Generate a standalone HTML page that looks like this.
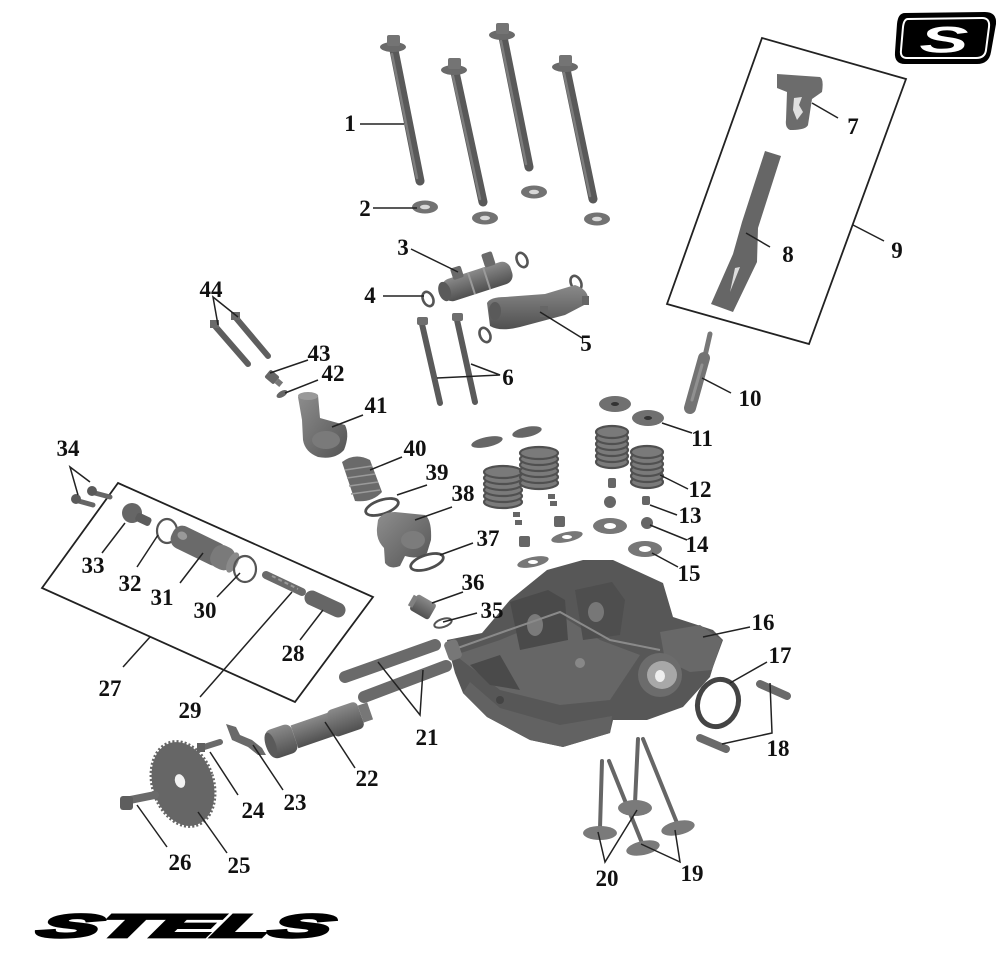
<!DOCTYPE html>
<html><head><meta charset="utf-8"><style>html,body{margin:0;padding:0;background:#fff}svg{display:block}</style></head><body>
<svg width="1008" height="958" viewBox="0 0 1008 958" xmlns="http://www.w3.org/2000/svg">
<defs>
<linearGradient id="m" x1="0" y1="0" x2="1" y2="1"><stop offset="0" stop-color="#8e8e8e"/><stop offset="1" stop-color="#545454"/></linearGradient>
<linearGradient id="mv" x1="0" y1="0" x2="0" y2="1"><stop offset="0" stop-color="#8a8a8a"/><stop offset="1" stop-color="#505050"/></linearGradient>
</defs>
<rect width="1008" height="958" fill="#fff"/>

<path d="M905,13 L985,12 Q997,12 996,24 L991,52 Q989,64 977,64 L905,64 Q894,64 895,52 L897,24 Q898,13 905,13 Z" fill="#000"/>
<path d="M908,19 L982,18 Q990,18 989,27 L986,50 Q985,58 976,58 L907,58 Q900,58 901,50 L903,27 Q904,19 908,19 Z" fill="none" stroke="#fff" stroke-width="2"/>
<text x="944" y="56" font-family="Liberation Sans, sans-serif" font-weight="bold" font-style="italic" font-size="46" fill="#fff" text-anchor="middle" transform="translate(944,38) scale(1.6,0.8) translate(-944,-38)">S</text>

<g stroke-linecap="round">
<line x1="394" y1="50" x2="420" y2="181" stroke="#595959" stroke-width="9"/>
<line x1="392" y1="54" x2="417" y2="178" stroke="#7d7d7d" stroke-width="2.5"/>
<line x1="455" y1="72" x2="483" y2="202" stroke="#595959" stroke-width="9"/>
<line x1="453" y1="76" x2="480" y2="199" stroke="#7d7d7d" stroke-width="2.5"/>
<line x1="503" y1="37" x2="529" y2="167" stroke="#595959" stroke-width="9"/>
<line x1="501" y1="41" x2="526" y2="164" stroke="#7d7d7d" stroke-width="2.5"/>
<line x1="566" y1="69" x2="593" y2="199" stroke="#595959" stroke-width="9"/>
<line x1="564" y1="73" x2="590" y2="196" stroke="#7d7d7d" stroke-width="2.5"/>
</g>
<ellipse cx="393" cy="47" rx="13" ry="5" fill="#6a6a6a"/><rect x="387" y="35" width="13" height="11" rx="2" fill="#747474"/>
<ellipse cx="454" cy="70" rx="13" ry="5" fill="#6a6a6a"/><rect x="448" y="58" width="13" height="11" rx="2" fill="#747474"/>
<ellipse cx="502" cy="35" rx="13" ry="5" fill="#6a6a6a"/><rect x="496" y="23" width="13" height="11" rx="2" fill="#747474"/>
<ellipse cx="565" cy="67" rx="13" ry="5" fill="#6a6a6a"/><rect x="559" y="55" width="13" height="11" rx="2" fill="#747474"/>
<g fill="#727272"><ellipse cx="425" cy="207" rx="13" ry="6.5"/><ellipse cx="485" cy="218" rx="13" ry="6.5"/><ellipse cx="534" cy="192" rx="13" ry="6.5"/><ellipse cx="597" cy="219" rx="13" ry="6.5"/></g>
<g fill="#d8d8d8"><ellipse cx="425" cy="207" rx="5" ry="2.3"/><ellipse cx="485" cy="218" rx="5" ry="2.3"/><ellipse cx="534" cy="192" rx="5" ry="2.3"/><ellipse cx="597" cy="219" rx="5" ry="2.3"/></g>

<g transform="translate(477,281) rotate(-18)">
<rect x="-36" y="-11" width="72" height="23" rx="9" fill="url(#mv)"/>
<ellipse cx="-34" cy="0" rx="6" ry="10" fill="#5a5a5a"/>
<rect x="-22" y="-20" width="11" height="12" rx="2" fill="#6a6a6a"/>
<rect x="12" y="-24" width="11" height="14" rx="2" fill="#6a6a6a"/>
<line x1="-6" y1="-11" x2="-6" y2="12" stroke="#9a9a9a" stroke-width="2"/>
<line x1="10" y1="-11" x2="10" y2="12" stroke="#9a9a9a" stroke-width="2"/>
</g>
<g fill="none" stroke="#555" stroke-width="2.6">
<ellipse cx="428" cy="299" rx="5" ry="7.5" transform="rotate(-25 428 299)"/>
<ellipse cx="522" cy="260" rx="5" ry="7.5" transform="rotate(-25 522 260)"/>
<ellipse cx="485" cy="335" rx="5" ry="7.5" transform="rotate(-25 485 335)"/>
<ellipse cx="576" cy="283" rx="5" ry="7.5" transform="rotate(-25 576 283)"/>
</g>
<path d="M487,303 Q490,297 505,297 L545,294 L575,285 Q590,290 588,303 L565,315 L520,327 Q500,332 490,326 Z" fill="url(#mv)"/>
<ellipse cx="495" cy="311" rx="6" ry="9" fill="#5a5a5a"/>
<rect x="540" y="306" width="8" height="11" fill="#666"/>
<rect x="582" y="296" width="7" height="9" fill="#666"/>
<g stroke-linecap="round">
<line x1="422" y1="324" x2="440" y2="403" stroke="#5a5a5a" stroke-width="6"/>
<line x1="457" y1="320" x2="475" y2="402" stroke="#5a5a5a" stroke-width="6"/>
</g>
<rect x="417" y="317" width="11" height="8" rx="2" fill="#6e6e6e"/>
<rect x="452" y="313" width="11" height="8" rx="2" fill="#6e6e6e"/>

<polygon points="762,38 906,79 809,344 667,304" fill="none" stroke="#222" stroke-width="1.8"/>
<path d="M777,74 L820,77 Q824,79 822,92 L812,99 L808,125 Q806,130 790,130 Q785,128 786,120 L787,92 L777,88 Z" fill="#6c6c6c"/>
<path d="M794,98 L802,97 L799,105 L803,112 L797,120 L793,110 Z" fill="#e0e0e0"/>
<polygon points="765,151 781,156 758,228 757,262 733,312 711,304 733,254 742,222" fill="#666"/>
<path d="M735,268 L740,267 L730,292 Z" fill="#ddd"/>
<g stroke-linecap="round">
<line x1="710" y1="334" x2="705" y2="356" stroke="#777" stroke-width="5"/>
<line x1="704" y1="358" x2="690" y2="408" stroke="#737373" stroke-width="12"/>
<line x1="702" y1="365" x2="692" y2="400" stroke="#909090" stroke-width="3"/>
</g>

<g stroke-linecap="round">
<line x1="215" y1="326" x2="248" y2="364" stroke="#5e5e5e" stroke-width="6"/>
<line x1="236" y1="318" x2="268" y2="356" stroke="#5e5e5e" stroke-width="6"/>
</g>
<rect x="210" y="320" width="9" height="8" fill="#6a6a6a"/><rect x="231" y="312" width="9" height="8" fill="#6a6a6a"/>
<g transform="translate(272,377) rotate(40)"><rect x="-6" y="-5" width="12" height="10" rx="2" fill="#666"/><rect x="6" y="-3" width="6" height="6" fill="#777"/></g>
<ellipse cx="282" cy="394" rx="6" ry="3" fill="#666" transform="rotate(-30 282 394)"/>
<path d="M298,397 Q308,390 318,395 L320,418 L345,425 Q350,435 344,450 Q335,460 318,457 Q305,452 303,440 L302,420 Z" fill="url(#m)"/>
<ellipse cx="308" cy="396" rx="10" ry="4" fill="#999"/>
<ellipse cx="326" cy="440" rx="14" ry="9" fill="#7a7a7a"/>

<path d="M342,462 Q355,452 370,460 L382,492 Q372,503 355,501 Z" fill="#6a6a6a"/>
<g stroke="#9a9a9a" stroke-width="1.5"><line x1="345" y1="470" x2="372" y2="466"/><line x1="347" y1="478" x2="375" y2="474"/><line x1="349" y1="486" x2="378" y2="482"/><line x1="351" y1="494" x2="380" y2="490"/></g>
<ellipse cx="382" cy="507" rx="17" ry="7" fill="none" stroke="#4e4e4e" stroke-width="2.8" transform="rotate(-18 382 507)"/>
<path d="M378,520 Q382,512 395,512 L425,515 Q432,520 431,540 L427,553 Q418,560 405,556 L400,566 Q390,570 385,563 L384,548 Q376,540 377,528 Z" fill="url(#m)"/>
<ellipse cx="413" cy="540" rx="12" ry="9" fill="#7c7c7c"/>
<ellipse cx="427" cy="562" rx="17" ry="7" fill="none" stroke="#4e4e4e" stroke-width="2.8" transform="rotate(-18 427 562)"/>
<g transform="translate(423,607) rotate(30)"><rect x="-11" y="-9" width="22" height="18" rx="3" fill="url(#mv)"/><rect x="-14" y="-6" width="5" height="12" fill="#808080"/></g>
<ellipse cx="443" cy="623" rx="9" ry="4" fill="none" stroke="#555" stroke-width="2" transform="rotate(-18 443 623)"/>

<ellipse cx="615" cy="404" rx="16" ry="8" fill="#707070"/><ellipse cx="615" cy="404" rx="4" ry="2" fill="#333"/>
<ellipse cx="648" cy="418" rx="16" ry="8" fill="#707070"/><ellipse cx="648" cy="418" rx="4" ry="2" fill="#333"/>
<g fill="#7a7a7a" stroke="#505050" stroke-width="2.2">
<ellipse cx="612" cy="462" rx="16" ry="6"/><ellipse cx="612" cy="456" rx="16" ry="6"/><ellipse cx="612" cy="450" rx="16" ry="6"/><ellipse cx="612" cy="444" rx="16" ry="6"/><ellipse cx="612" cy="438" rx="16" ry="6"/><ellipse cx="612" cy="432" rx="16" ry="6"/>
<ellipse cx="647" cy="482" rx="16" ry="6"/><ellipse cx="647" cy="476" rx="16" ry="6"/><ellipse cx="647" cy="470" rx="16" ry="6"/><ellipse cx="647" cy="464" rx="16" ry="6"/><ellipse cx="647" cy="458" rx="16" ry="6"/><ellipse cx="647" cy="452" rx="16" ry="6"/>
<ellipse cx="503" cy="502" rx="19" ry="6"/><ellipse cx="503" cy="496" rx="19" ry="6"/><ellipse cx="503" cy="490" rx="19" ry="6"/><ellipse cx="503" cy="484" rx="19" ry="6"/><ellipse cx="503" cy="478" rx="19" ry="6"/><ellipse cx="503" cy="472" rx="19" ry="6"/>
<ellipse cx="539" cy="483" rx="19" ry="6"/><ellipse cx="539" cy="477" rx="19" ry="6"/><ellipse cx="539" cy="471" rx="19" ry="6"/><ellipse cx="539" cy="465" rx="19" ry="6"/><ellipse cx="539" cy="459" rx="19" ry="6"/><ellipse cx="539" cy="453" rx="19" ry="6"/>
</g>
<ellipse cx="487" cy="442" rx="16" ry="5" fill="#666" transform="rotate(-12 487 442)"/>
<ellipse cx="527" cy="432" rx="15" ry="5" fill="#666" transform="rotate(-12 527 432)"/>
<g fill="#666"><rect x="608" y="478" width="8" height="10" rx="2"/><rect x="642" y="496" width="8" height="9" rx="2"/>
<circle cx="610" cy="502" r="6"/><circle cx="647" cy="523" r="6"/>
<rect x="513" y="512" width="7" height="5"/><rect x="515" y="520" width="7" height="5"/><rect x="548" y="494" width="7" height="5"/><rect x="550" y="501" width="7" height="5"/>
<rect x="519" y="536" width="11" height="11" rx="2"/><rect x="554" y="516" width="11" height="11" rx="2"/></g>
<ellipse cx="610" cy="526" rx="17" ry="8" fill="#777"/><ellipse cx="610" cy="526" rx="6" ry="3" fill="#fff"/>
<ellipse cx="645" cy="549" rx="17" ry="8" fill="#777"/><ellipse cx="645" cy="549" rx="6" ry="3" fill="#fff"/>
<ellipse cx="567" cy="537" rx="16" ry="5" fill="#777" transform="rotate(-12 567 537)"/><ellipse cx="567" cy="537" rx="5" ry="2" fill="#fff"/>
<ellipse cx="533" cy="562" rx="16" ry="5" fill="#777" transform="rotate(-12 533 562)"/><ellipse cx="533" cy="562" rx="5" ry="2" fill="#fff"/>

<polygon points="447,640 482,633 510,600 547,570 583,560 613,560 663,583 673,617 713,630 723,640 713,667 710,677 683,707 647,720 613,720 610,733 563,747 530,740 487,717 463,693 455,673 448,647" fill="#575757"/>
<polygon points="455,655 500,640 560,615 600,640 640,655 610,700 560,705 500,690" fill="#666"/>
<polygon points="470,665 500,655 520,690 490,685" fill="#4a4a4a"/>
<polygon points="510,602 548,590 565,600 568,640 520,650" fill="#4a4a4a"/>
<ellipse cx="535" cy="625" rx="8" ry="11" fill="#7a7a7a"/>
<polygon points="575,590 612,582 625,600 620,635 583,640" fill="#4e4e4e"/>
<ellipse cx="596" cy="612" rx="8" ry="10" fill="#777"/>
<polyline points="452,650 500,633 560,612 610,640 660,650" fill="none" stroke="#8a8a8a" stroke-width="2"/>
<polygon points="660,632 700,625 722,640 712,670 690,672 665,660" fill="#686868"/>
<polygon points="463,693 487,717 530,740 563,747 610,733 612,716 560,725 500,708 470,682" fill="#626262"/>
<circle cx="660" cy="675" r="22" fill="#6c6c6c"/>
<ellipse cx="662" cy="675" rx="15" ry="14" fill="#a8a8a8"/>
<ellipse cx="660" cy="676" rx="5" ry="6" fill="#eee"/>
<rect x="446" y="640" width="14" height="20" rx="4" fill="#777" transform="rotate(-20 453 650)"/>
<circle cx="580" cy="663" r="5" fill="#888"/>
<circle cx="500" cy="700" r="4" fill="#444"/>

<ellipse cx="718" cy="703" rx="20" ry="24" fill="none" stroke="#444" stroke-width="5" transform="rotate(20 718 703)"/>
<line x1="760" y1="684" x2="787" y2="696" stroke="#6a6a6a" stroke-width="8" stroke-linecap="round"/>
<line x1="700" y1="738" x2="726" y2="749" stroke="#6a6a6a" stroke-width="8" stroke-linecap="round"/>

<g stroke="#666" stroke-width="4" stroke-linecap="round">
<line x1="602" y1="761" x2="600" y2="828"/>
<line x1="609" y1="761" x2="642" y2="843"/>
<line x1="638" y1="739" x2="635" y2="803"/>
<line x1="643" y1="739" x2="677" y2="823"/>
</g>
<g fill="#7a7a7a">
<ellipse cx="600" cy="833" rx="17" ry="7"/>
<ellipse cx="643" cy="848" rx="17" ry="7" transform="rotate(-12 643 848)"/>
<ellipse cx="635" cy="808" rx="17" ry="8"/>
<ellipse cx="678" cy="828" rx="17" ry="7" transform="rotate(-12 678 828)"/>
</g>

<g stroke-linecap="round">
<line x1="345" y1="677" x2="435" y2="645" stroke="#6a6a6a" stroke-width="12"/>
<line x1="364" y1="697" x2="446" y2="666" stroke="#6a6a6a" stroke-width="12"/>
</g>

<g transform="translate(268,746) rotate(-19)">
<rect x="0" y="-15" width="28" height="30" rx="7" fill="url(#mv)"/>
<ellipse cx="3" cy="0" rx="5" ry="13" fill="#5a5a5a"/>
<rect x="28" y="-12" width="40" height="24" fill="url(#mv)"/>
<rect x="66" y="-14" width="32" height="28" rx="5" fill="url(#mv)"/>
<rect x="98" y="-9" width="10" height="18" fill="#777"/>
</g>
<path d="M226,724 L236,727 L240,735 L252,740 L262,748 L266,755 L258,755 L248,747 L232,740 Z" fill="#6a6a6a"/>
<line x1="201" y1="748" x2="220" y2="742" stroke="#6a6a6a" stroke-width="6" stroke-linecap="round"/>
<rect x="197" y="743" width="8" height="9" fill="#606060"/>
<ellipse cx="183" cy="784" rx="30" ry="43" fill="#666" stroke="#666" stroke-width="4" stroke-dasharray="2 2" transform="rotate(-18 183 784)"/>
<ellipse cx="180" cy="781" rx="5" ry="7" fill="#f2f2f2" transform="rotate(-18 180 781)"/>
<line x1="130" y1="800" x2="155" y2="795" stroke="#6a6a6a" stroke-width="8" stroke-linecap="round"/>
<rect x="120" y="796" width="13" height="14" rx="3" fill="#5e5e5e"/>

<polygon points="118,483 373,597 295,702 42,588" fill="none" stroke="#222" stroke-width="1.8"/>
<g stroke-linecap="round">
<line x1="75" y1="500" x2="93" y2="505" stroke="#666" stroke-width="5"/>
<line x1="91" y1="492" x2="110" y2="497" stroke="#666" stroke-width="5"/>
</g>
<circle cx="76" cy="499" r="5" fill="#5a5a5a"/><circle cx="92" cy="491" r="5" fill="#5a5a5a"/>
<circle cx="132" cy="513" r="10" fill="#666"/><rect x="138" y="512" width="16" height="9" rx="3" fill="#5c5c5c" transform="rotate(25 138 512)"/>
<ellipse cx="167" cy="531" rx="10" ry="12" fill="none" stroke="#555" stroke-width="2.2"/>
<g transform="translate(203,548) rotate(26)"><rect x="-34" y="-12" width="58" height="24" rx="10" fill="#6a6a6a"/><ellipse cx="-24" cy="-2" rx="5" ry="4" fill="#999"/><rect x="10" y="-12" width="24" height="24" rx="10" fill="#7a7a7a"/><ellipse cx="33" cy="0" rx="5" ry="11" fill="#8a8a8a"/></g>
<ellipse cx="245" cy="569" rx="11" ry="13" fill="none" stroke="#555" stroke-width="2.2"/>
<line x1="266" y1="575" x2="302" y2="592" stroke="#6a6a6a" stroke-width="8" stroke-linecap="round"/>
<line x1="272" y1="576" x2="298" y2="589" stroke="#999" stroke-width="2" stroke-dasharray="4 3"/>
<line x1="312" y1="598" x2="338" y2="610" stroke="#666" stroke-width="15" stroke-linecap="round"/>

<g stroke="#222" stroke-width="1.5" fill="none">
<line x1="360" y1="124" x2="404" y2="124"/>
<line x1="373" y1="208" x2="417" y2="208"/>
<line x1="411" y1="249" x2="458" y2="272"/>
<line x1="383" y1="296" x2="424" y2="296"/>
<line x1="540" y1="312" x2="582" y2="338"/>
<polyline points="437,378 500,375 471,364"/>
<line x1="812" y1="103" x2="838" y2="118"/>
<line x1="746" y1="233" x2="770" y2="247"/>
<line x1="853" y1="225" x2="884" y2="241"/>
<line x1="702" y1="378" x2="731" y2="393"/>
<line x1="662" y1="423" x2="692" y2="433"/>
<line x1="660" y1="475" x2="688" y2="489"/>
<line x1="650" y1="505" x2="677" y2="515"/>
<line x1="650" y1="525" x2="687" y2="540"/>
<line x1="652" y1="553" x2="678" y2="567"/>
<line x1="703" y1="637" x2="750" y2="627"/>
<line x1="730" y1="683" x2="767" y2="662"/>
<polyline points="770,683 772,733 722,744"/>
<polyline points="641,844 680,862 675,830"/>
<polyline points="598,832 605,862 637,810"/>
<polyline points="378,662 420,715 423,670"/>
<line x1="355" y1="768" x2="325" y2="722"/>
<line x1="283" y1="790" x2="253" y2="745"/>
<line x1="238" y1="795" x2="210" y2="752"/>
<line x1="227" y1="853" x2="198" y2="812"/>
<line x1="167" y1="847" x2="137" y2="805"/>
<line x1="123" y1="667" x2="150" y2="637"/>
<line x1="300" y1="640" x2="323" y2="610"/>
<line x1="200" y1="697" x2="292" y2="592"/>
<line x1="217" y1="597" x2="240" y2="573"/>
<line x1="180" y1="583" x2="203" y2="553"/>
<line x1="137" y1="567" x2="158" y2="535"/>
<line x1="102" y1="553" x2="125" y2="523"/>
<polyline points="78,495 70,467 90,482"/>
<line x1="477" y1="613" x2="443" y2="622"/>
<line x1="463" y1="592" x2="432" y2="603"/>
<line x1="473" y1="543" x2="440" y2="555"/>
<line x1="452" y1="507" x2="415" y2="520"/>
<line x1="427" y1="485" x2="397" y2="495"/>
<line x1="402" y1="457" x2="370" y2="470"/>
<line x1="363" y1="415" x2="332" y2="427"/>
<line x1="318" y1="380" x2="285" y2="393"/>
<line x1="308" y1="360" x2="270" y2="373"/>
<polyline points="218,325 213,297 238,317"/>
</g>

<g font-family="Liberation Serif, serif" font-weight="bold" font-size="23" fill="#111" text-anchor="middle">
<text x="350" y="131">1</text>
<text x="365" y="216">2</text>
<text x="403" y="255">3</text>
<text x="370" y="303">4</text>
<text x="586" y="351">5</text>
<text x="508" y="385">6</text>
<text x="853" y="134">7</text>
<text x="788" y="262">8</text>
<text x="897" y="258">9</text>
<text x="750" y="406">10</text>
<text x="702" y="446">11</text>
<text x="700" y="497">12</text>
<text x="690" y="523">13</text>
<text x="697" y="552">14</text>
<text x="689" y="581">15</text>
<text x="763" y="630">16</text>
<text x="780" y="663">17</text>
<text x="778" y="756">18</text>
<text x="692" y="881">19</text>
<text x="607" y="886">20</text>
<text x="427" y="745">21</text>
<text x="367" y="786">22</text>
<text x="295" y="810">23</text>
<text x="253" y="818">24</text>
<text x="239" y="873">25</text>
<text x="180" y="870">26</text>
<text x="110" y="696">27</text>
<text x="293" y="661">28</text>
<text x="190" y="718">29</text>
<text x="205" y="618">30</text>
<text x="162" y="605">31</text>
<text x="130" y="591">32</text>
<text x="93" y="573">33</text>
<text x="68" y="456">34</text>
<text x="492" y="618">35</text>
<text x="473" y="590">36</text>
<text x="488" y="546">37</text>
<text x="463" y="501">38</text>
<text x="437" y="480">39</text>
<text x="415" y="456">40</text>
<text x="376" y="413">41</text>
<text x="333" y="381">42</text>
<text x="319" y="361">43</text>
<text x="211" y="297">44</text>
</g>

<text x="0" y="0" font-family="Liberation Sans, sans-serif" font-weight="bold" font-style="italic" font-size="35" fill="#000" stroke="#000" stroke-width="3" textLength="292" lengthAdjust="spacingAndGlyphs" transform="translate(35,937) skewX(-25) scale(1,0.92)">STELS</text>
</svg>
</body></html>
